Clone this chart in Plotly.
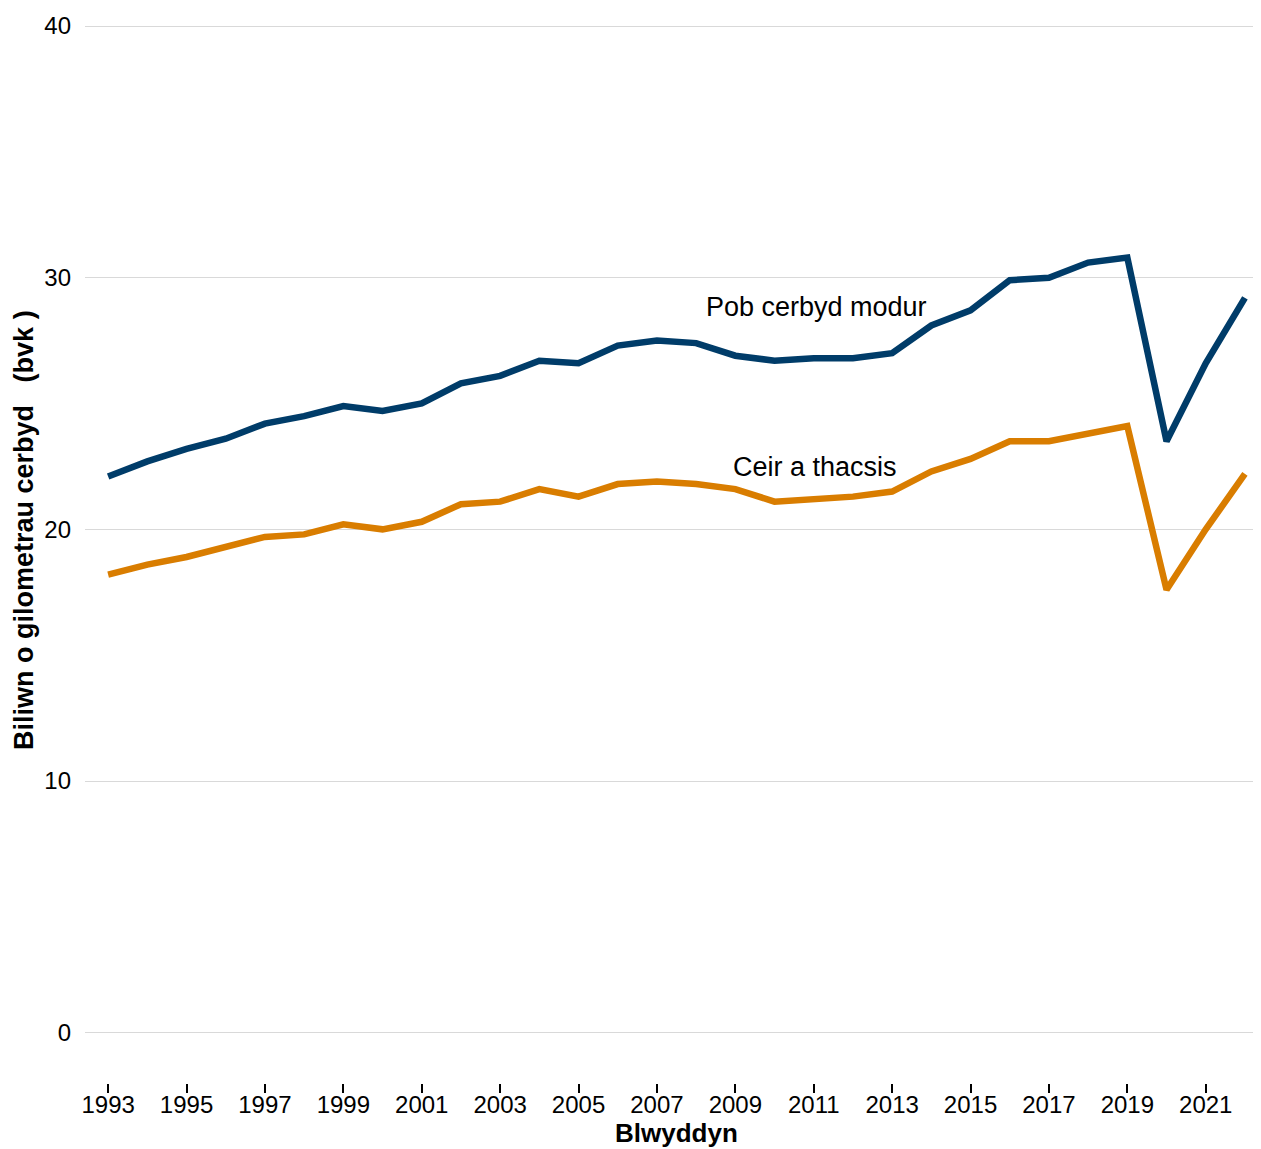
import plotly.graph_objects as go

years = list(range(1993, 2023))
all_vehicles = [22.1, 22.7, 23.2, 23.6, 24.2, 24.5, 24.9, 24.7, 25.0, 25.8,
                26.1, 26.7, 26.6, 27.3, 27.5, 27.4, 26.9, 26.7, 26.8, 26.8,
                27.0, 28.1, 28.7, 29.9, 30.0, 30.6, 30.8, 23.5, 26.6, 29.2]
cars_taxis = [18.2, 18.6, 18.9, 19.3, 19.7, 19.8, 20.2, 20.0, 20.3, 21.0,
              21.1, 21.6, 21.3, 21.8, 21.9, 21.8, 21.6, 21.1, 21.2, 21.3,
              21.5, 22.3, 22.8, 23.5, 23.5, 23.8, 24.1, 17.6, 20.0, 22.2]
series_names = ["Pob cerbyd modur", "Ceir a thacsis"]
x_tick_years = list(range(1993, 2022, 2))
y_ticks = [0, 10, 20, 30, 40]

FONT = "Liberation Sans, Arial, sans-serif"
BLUE = "#003C69"
ORANGE = "#D97D00"

fig = go.Figure()
fig.add_trace(go.Scatter(x=years, y=all_vehicles, mode="lines", name=series_names[0],
                         line=dict(color=BLUE, width=6.5), showlegend=False))
fig.add_trace(go.Scatter(x=years, y=cars_taxis, mode="lines", name=series_names[1],
                         line=dict(color=ORANGE, width=6.5), showlegend=False))

fig.add_annotation(x=2011.08, y=28.85, text=series_names[0], showarrow=False,
                   font=dict(family=FONT, size=27, color="black"))
fig.add_annotation(x=2011.03, y=22.49, text=series_names[1], showarrow=False,
                   font=dict(family=FONT, size=27, color="black"))

fig.add_annotation(xref="paper", yref="paper", x=-0.0519, y=0.5227, xanchor="center", yanchor="middle",
                   text="<b>Biliwn o gilometrau cerbyd\u00a0\u00a0\u00a0(bvk\u00a0)</b>", textangle=-90,
                   showarrow=False, font=dict(family=FONT, size=27, color="black"))
fig.add_annotation(xref="paper", yref="paper", x=0.5026, y=-0.0475, xanchor="center", yanchor="middle",
                   text="<b>Blwyddyn</b>", showarrow=False,
                   font=dict(family=FONT, size=26, color="black"))

fig.update_layout(
    width=1253, height=1141,
    margin=dict(l=77, r=0, t=17, b=66),
    plot_bgcolor="white", paper_bgcolor="white",
    font=dict(family=FONT, size=24, color="black"),
    xaxis=dict(range=[1992.41, 2022.41], tickvals=x_tick_years, ticktext=[str(y) for y in x_tick_years],
               showgrid=False, zeroline=False, showline=False,
               ticks="outside", ticklen=9, tickwidth=1.5, tickcolor="black",
               ticklabelstandoff=-9,
               tickfont=dict(family=FONT, size=24, color="black")),
    yaxis=dict(range=[-2, 40.04], tickvals=y_ticks, showgrid=True, gridcolor="#D9D9D9", gridwidth=1,
               zeroline=False, showline=False, ticks="",
               ticklabelstandoff=13,
               tickfont=dict(family=FONT, size=24, color="black")),
)

fig.write_html("out.html")
